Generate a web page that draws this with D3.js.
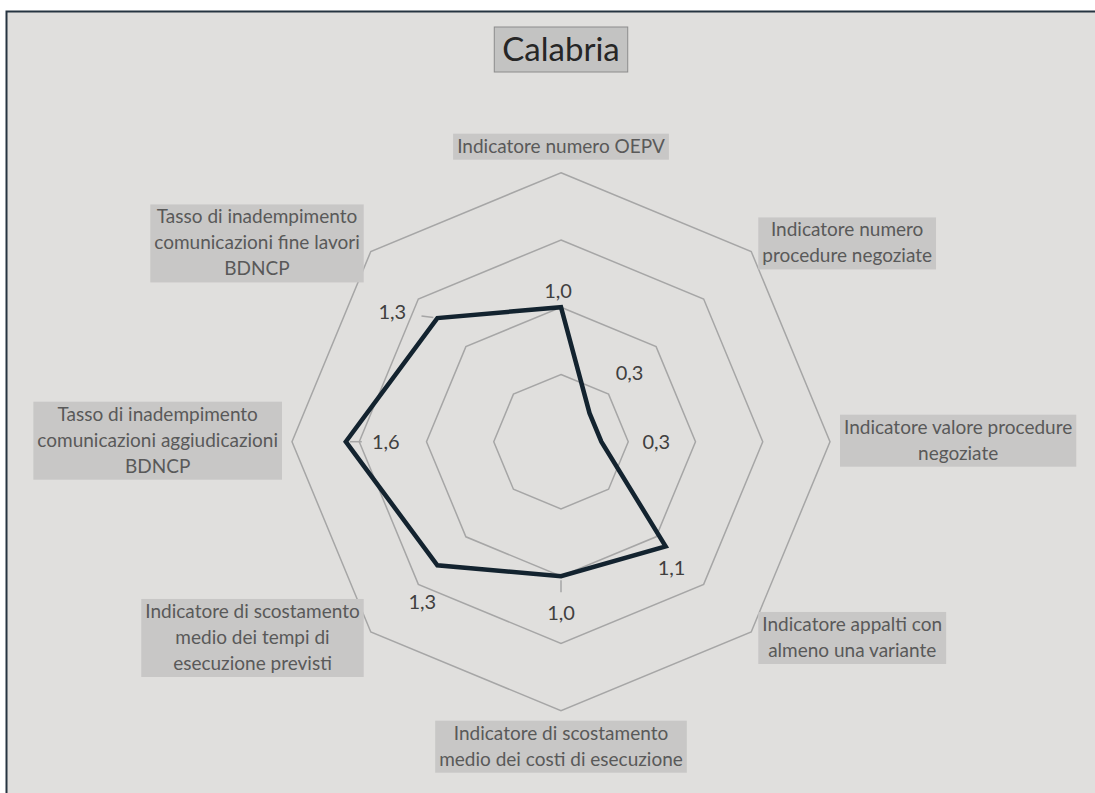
<!DOCTYPE html>
<html>
<head>
<meta charset="utf-8">
<script src="https://cdn.jsdelivr.net/npm/d3@7"></script>
<style>
    body { margin: 0; background: #ffffff; }
    text { font-family: Lato, "Open Sans", sans-serif; }
</style>
</head>
<body>
<script>
// radar chart "Calabria" - 8 indicators, one series

var title = "Calabria";

var categories = [
    ["Indicatore numero OEPV"],
    ["Indicatore numero", "procedure negoziate"],
    ["Indicatore valore procedure", "negoziate"],
    ["Indicatore appalti con", "almeno una variante"],
    ["Indicatore di scostamento", "medio dei costi di esecuzione"],
    ["Indicatore di scostamento", "medio dei tempi di", "esecuzione previsti"],
    ["Tasso di inadempimento", "comunicazioni aggiudicazioni", "BDNCP"],
    ["Tasso di inadempimento", "comunicazioni fine lavori", "BDNCP"]
];

var values = [1.0, 0.3, 0.3, 1.1, 1.0, 1.3, 1.6, 1.3];

var gridLevels = [0.5, 1.0, 1.5, 2.0];

var width = 1095,
    height = 793,
    cx = 561,
    cy = 441.7,
    radius = 269;

// data label nudges (label centre relative to its point), like in the original
var labelShift = [[-3, -16], [40, -40], [55, 0], [6, 22],
                  [0, 37], [-15, 37], [40, 0], [-45, -6]];

var itFormat = d3.formatLocale({decimal: ",", thousands: ".",
                                grouping: [3], currency: ["", " €"]})
    .format(".1f");

var svg = d3.select("body").append("svg")
    .attr("width", width)
    .attr("height", height);

// chart area with dark frame
svg.append("rect")
    .attr("x", 6.5)
    .attr("y", 11.5)
    .attr("width", width + 10)
    .attr("height", height + 10)
    .style("fill", "#e0dfdd")
    .style("stroke", "#263441")
    .style("stroke-width", 2);

var r = d3.scaleLinear().domain([0, 2]).range([0, radius]);
var angle = d3.scaleLinear().domain([0, categories.length])
    .range([0, 2 * Math.PI]);

function pt(i, v) {
    return [cx + r(v) * Math.sin(angle(i)), cy - r(v) * Math.cos(angle(i))];
}

var ring = d3.line().curve(d3.curveLinearClosed);

// grid octagons
svg.append("g").selectAll("path")
    .data(gridLevels)
    .enter().append("path")
    .attr("d", function(lv) {
        return ring(categories.map(function(c, i) { return pt(i, lv); }));
    })
    .style("fill", "none")
    .style("stroke", "#a6a6a6")
    .style("stroke-width", 1.5);

// category labels in grey boxes
var lineH = 26, pad = 4, gap = 10;
var catG = svg.append("g");
categories.forEach(function(lines, i) {
    var a = angle(i),
        s = Math.sin(a), c = Math.cos(a),
        ax = cx + (radius + gap) * s,
        ay = cy - (radius + gap) * c;
    var g = catG.append("g");
    var txt = g.append("text")
        .style("font-size", "19px")
        .style("fill", "#595959")
        .attr("text-anchor", "middle");
    lines.forEach(function(l, k) {
        txt.append("tspan").attr("x", 0).attr("y", k * lineH).text(l);
    });
    var bb = txt.node().getBBox();
    var w = bb.width + 2 * pad,
        h = lines.length * lineH;
    var left;
    if (Math.abs(s) < 0.01) left = ax - w / 2;
    else if (s > 0) left = ax;
    else left = ax - w;
    var top;
    if (Math.abs(s) < 0.01 && c > 0) top = ay - h - 3;
    else if (Math.abs(s) < 0.01) top = ay;
    else top = ay - h / 2 - 1;
    g.insert("rect", "text")
        .attr("x", left).attr("y", top)
        .attr("width", w).attr("height", h)
        .style("fill", "#c8c7c6");
    txt.attr("transform", "translate(" + (left + w / 2) + "," + (top + 19) + ")");
});

// series line
svg.append("path")
    .attr("d", ring(values.map(function(v, i) { return pt(i, v); })))
    .style("fill", "none")
    .style("stroke", "#13232f")
    .style("stroke-width", 4.5)
    .style("stroke-linejoin", "miter");

// leader lines for the pushed data labels
[4, 6, 7].forEach(function(i) {
    var p = pt(i, values[i]),
        dx = labelShift[i][0], dy = labelShift[i][1],
        d = Math.sqrt(dx * dx + dy * dy);
    svg.append("line")
        .attr("x1", p[0] + dx / d * 4).attr("y1", p[1] + dy / d * 4)
        .attr("x2", p[0] + dx / d * 16).attr("y2", p[1] + dy / d * 16)
        .style("stroke", "#a6a6a6")
        .style("stroke-width", 1.5);
});

// data labels
svg.append("g").selectAll("text")
    .data(values)
    .enter().append("text")
    .attr("x", function(v, i) { return pt(i, v)[0] + labelShift[i][0]; })
    .attr("y", function(v, i) { return pt(i, v)[1] + labelShift[i][1] + 7; })
    .attr("text-anchor", "middle")
    .style("font-size", "20px")
    .style("fill", "#404040")
    .text(function(v) { return itFormat(v); });

// title box
var tG = svg.append("g");
var tT = tG.append("text")
    .attr("x", cx)
    .attr("y", 61)
    .attr("text-anchor", "middle")
    .style("font-size", "33px")
    .style("fill", "#262626")
    .text(title);
var tb = tT.node().getBBox();
tG.insert("rect", "text")
    .attr("x", cx - tb.width / 2 - 8)
    .attr("y", 27)
    .attr("width", tb.width + 16)
    .attr("height", 45)
    .style("fill", "#c3c3c2")
    .style("stroke", "#8c8c8c")
    .style("stroke-width", 1);
</script>
</body>
</html>
